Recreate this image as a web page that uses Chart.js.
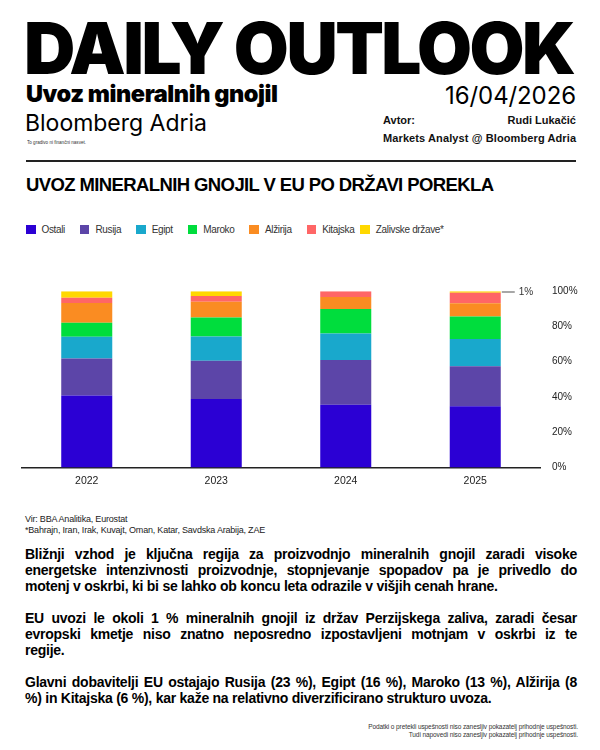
<!DOCTYPE html>
<html>
<head>
<meta charset="utf-8">
<script src="https://cdn.jsdelivr.net/npm/chart.js@4.4.1/dist/chart.umd.min.js"></script>
<style>
  html, body { margin: 0; padding: 0; background: #fff; }
  body { width: 600px; height: 750px; position: relative; overflow: hidden; font-family: "Liberation Sans", Arial, sans-serif; color: #111; }
  .abs { position: absolute; white-space: nowrap; line-height: 1; }
  #big { font-family: "Inter", "Liberation Sans", sans-serif; font-weight: 900; font-size: 71px; left: 24px; top: 13px; color: #000; }
  #sub { font-family: "Inter", "Liberation Sans", sans-serif; font-weight: 900; font-size: 23.5px; left: 26px; top: 82px; color: #000; }
  #brand { font-family: "Inter", "Liberation Sans", sans-serif; font-weight: 400; font-size: 23px; left: 25px; top: 112px; color: #000; }
  #tiny { font-size: 8px; left: 27px; top: 141px; transform-origin: left top; color: #333; }
  #date { font-family: "Inter", "Liberation Sans", sans-serif; font-weight: 400; font-size: 24px; right: 24px; top: 84px; color: #000; }
  #avtor { font-weight: 700; font-size: 11px; left: 383px; top: 115px; color: #111; }
  #author { font-weight: 700; font-size: 11px; right: 24px; top: 115px; color: #111; }
  #role { font-weight: 700; font-size: 11px; left: 383px; top: 133px; color: #111; }
  #rule { position: absolute; left: 26px; top: 159.5px; width: 550px; height: 2px; background: #222; }
  #title { font-weight: 700; font-size: 18.5px; left: 26px; top: 176px; color: #000; }
  #legend { position: absolute; left: 26px; top: 224px; display: flex; align-items: center; font-size: 10px; color: #333; }
  #legend .item { display: flex; align-items: center; margin-right: 15px; }
  #legend .item:nth-child(6) { margin-right: 6px; }
  #legend .sw { width: 9.5px; height: 9.5px; margin-right: 6px; }
  #legend .lb { letter-spacing: -0.35px; }
  #chartBox { position: absolute; left: 0; top: 270px; width: 600px; height: 230px; }
  #src1 { font-size: 9px; left: 25px; top: 515px; color: #222; letter-spacing: -0.2px; }
  #src2 { font-size: 9px; left: 25px; top: 526px; color: #222; letter-spacing: -0.2px; }
  .para { position: absolute; left: 25px; width: 552px; font-weight: 700; font-size: 14px; line-height: 16px; color: #000; letter-spacing: -0.25px; }
  .para .ln { white-space: nowrap; text-align: justify; text-align-last: justify; }
  .para .ln.last { text-align: left; text-align-last: left; }
  .foot { font-size: 6.5px; right: 22px; color: #333; letter-spacing: -0.1px; }
</style>
</head>
<body>
<div id="big" class="abs">DAILY OUTLOOK</div>
<div id="sub" class="abs">Uvoz mineralnih gnojil</div>
<div id="brand" class="abs">Bloomberg Adria</div>
<div id="tiny" class="abs">To gradivo ni finančni nasvet.</div>
<div id="date" class="abs">16/04/2026</div>
<div id="avtor" class="abs">Avtor:</div>
<div id="author" class="abs">Rudi Lukačić</div>
<div id="role" class="abs">Markets Analyst @ Bloomberg Adria</div>
<div id="rule"></div>
<div id="title" class="abs">UVOZ MINERALNIH GNOJIL V EU PO DRŽAVI POREKLA</div>
<div id="legend"></div>
<div id="chartBox"><canvas id="c"></canvas></div>
<div id="src1" class="abs">Vir: BBA Analitika, Eurostat</div>
<div id="src2" class="abs">*Bahrajn, Iran, Irak, Kuvajt, Oman, Katar, Savdska Arabija, ZAE</div>

<div class="para" style="top:546px">
  <div class="ln">Bližnji vzhod je ključna regija za proizvodnjo mineralnih gnojil zaradi visoke</div>
  <div class="ln">energetske intenzivnosti proizvodnje, stopnjevanje spopadov pa je privedlo do</div>
  <div class="ln last">motenj v oskrbi, ki bi se lahko ob koncu leta odrazile v višjih cenah hrane.</div>
</div>
<div class="para" style="top:610px">
  <div class="ln">EU uvozi le okoli 1 % mineralnih gnojil iz držav Perzijskega zaliva, zaradi česar</div>
  <div class="ln">evropski kmetje niso znatno neposredno izpostavljeni motnjam v oskrbi iz te</div>
  <div class="ln last">regije.</div>
</div>
<div class="para" style="top:674px">
  <div class="ln">Glavni dobavitelji EU ostajajo Rusija (23 %), Egipt (16 %), Maroko (13 %), Alžirija (8</div>
  <div class="ln last">%) in Kitajska (6 %), kar kaže na relativno diverzificirano strukturo uvoza.</div>
</div>
<div class="abs foot" style="top:724px">Podatki o pretekli uspešnosti niso zanesljiv pokazatelj prihodnje uspešnosti.</div>
<div class="abs foot" style="top:732px">Tudi napovedi niso zanesljiv pokazatelj prihodnje uspešnosti.</div>

<script>
// ---- data ----
const years = ['2022', '2023', '2024', '2025'];
const seriesNames = ['Ostali', 'Rusija', 'Egipt', 'Maroko', 'Alžirija', 'Kitajska', 'Zalivske države*'];
const ostali   = [40.9, 38.8, 35.6, 34.7];
const rusija   = [20.9, 21.7, 25.4, 22.8];
const egipt    = [12.4, 13.9, 15.1, 15.4];
const maroko   = [7.9, 10.7, 13.9, 12.8];
const alzirija = [11.3, 8.9, 6.8, 7.5];
const kitajska = [3.0, 3.4, 3.2, 6.0];
const zalivske = [3.6, 2.6, 0, 0.8];
const yTicks = [0, 20, 40, 60, 80, 100];
const seriesColors = ['#2B00D4', '#5C45A8', '#19A8CC', '#00DD3D', '#FA8C22', '#FF6666', '#FFD800'];

const seriesValues = [ostali, rusija, egipt, maroko, alzirija, kitajska, zalivske];

// legend
const legend = document.getElementById('legend');
seriesNames.forEach((n, i) => {
  const it = document.createElement('div'); it.className = 'item';
  const sw = document.createElement('div'); sw.className = 'sw'; sw.style.background = seriesColors[i];
  const lb = document.createElement('span'); lb.className = 'lb'; lb.textContent = n;
  it.appendChild(sw); it.appendChild(lb); legend.appendChild(it);
});

Chart.defaults.font.family = '"Liberation Sans", Arial, sans-serif';

// annotation for the last value of last series
const lastLabel = {
  id: 'lastLabel',
  afterDatasetsDraw(chart) {
    const di = chart.data.datasets.length - 1;
    const meta = chart.getDatasetMeta(di);
    const idx = meta.data.length - 1;
    const el = meta.data[idx];
    const v = chart.data.datasets[di].data[idx];
    const ctx = chart.ctx;
    const y = (el.y + el.base) / 2;
    const x0 = el.x + el.width / 2 + 1;
    ctx.save();
    ctx.strokeStyle = '#8a8a8a';
    ctx.lineWidth = 1.5;
    ctx.beginPath(); ctx.moveTo(x0, y); ctx.lineTo(x0 + 13, y); ctx.stroke();
    ctx.fillStyle = '#333';
    ctx.font = '10px "Liberation Sans", Arial, sans-serif';
    ctx.textBaseline = 'middle';
    ctx.textAlign = 'left';
    ctx.fillText(Math.round(v) + '%', x0 + 17, y);
    ctx.restore();
  }
};

new Chart(document.getElementById('c'), {
  type: 'bar',
  data: {
    labels: years,
    datasets: seriesNames.map((n, i) => ({
      label: n,
      data: seriesValues[i],
      backgroundColor: seriesColors[i],
      borderWidth: 0,
      barPercentage: 0.394,
      categoryPercentage: 1
    }))
  },
  options: {
    responsive: true,
    maintainAspectRatio: false,
    animation: false,
    layout: { padding: { left: 22, right: 0, top: 21.3, bottom: 6 } },
    plugins: { legend: { display: false }, tooltip: { enabled: false } },
    scales: {
      x: {
        stacked: true,
        grid: { display: false, drawTicks: false },
        border: { display: true, color: '#222', width: 1.5 },
        ticks: { color: '#222', font: { size: 10.5 }, padding: 7 }
      },
      y: {
        stacked: true,
        position: 'right',
        min: 0, max: 100,
        afterBuildTicks(scale) { scale.ticks = yTicks.map(v => ({ value: v })); },
        afterFit(scale) { scale.width = 60; },
        grid: { display: false, drawTicks: false },
        border: { display: false },
        ticks: { color: '#222', font: { size: 10 }, padding: 12, callback: v => v + '%' }
      }
    }
  },
  plugins: [lastLabel]
});

// fit text widths
function fit(id, target) {
  const el = document.getElementById(id);
  el.style.letterSpacing = '0px';
  const w = el.getBoundingClientRect().width;
  const n = el.textContent.length;
  el.style.letterSpacing = ((target - w) / (n - 1)) + 'px';
}
function fitScale(id, target) {
  const el = document.getElementById(id);
  el.style.transform = 'none';
  const w = el.getBoundingClientRect().width;
  el.style.transform = 'scale(' + (target / w) + ')';
}
function doFit() {
  fit('big', 552);
  fit('sub', 252);
  fit('brand', 182);
  fit('date', 131);
  fit('role', 193);
  fit('title', 468);
  fitScale('tiny', 59);
}
doFit();
if (document.fonts && document.fonts.ready) document.fonts.ready.then(doFit);
</script>
</body>
</html>
